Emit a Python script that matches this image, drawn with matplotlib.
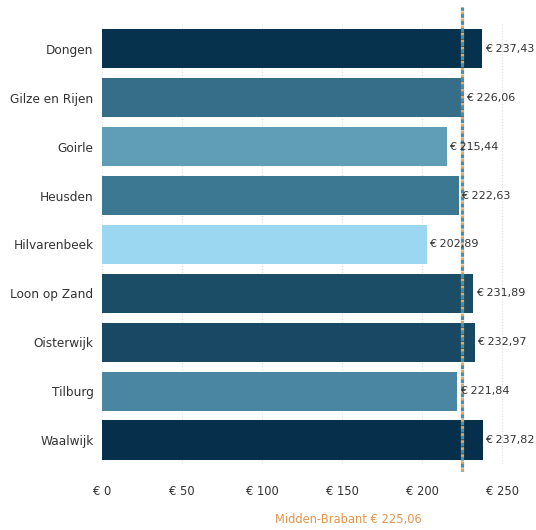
import matplotlib.pyplot as plt

gemeenten = ["Dongen", "Gilze en Rijen", "Goirle", "Heusden", "Hilvarenbeek",
             "Loon op Zand", "Oisterwijk", "Tilburg", "Waalwijk"]
bedragen = [237.43, 226.06, 215.44, 222.63, 202.89, 231.89, 232.97, 221.84, 237.82]
kleuren = ["#06324e", "#366d89", "#609db6", "#3d7893", "#9bd7f0",
           "#1b4d66", "#184863", "#4a86a1", "#062f4b"]
gemiddelde = 225.06
ticks = [0, 50, 100, 150, 200, 250]

def euro(v):
    return "€ " + f"{v:.2f}".replace(".", ",")

fig = plt.figure(figsize=(5.36, 5.30), dpi=100)
ax = fig.add_axes([0.19, 0.1236, 0.81, 0.8304])

y = range(len(gemeenten))
ax.barh(y, bedragen, height=0.8, color=kleuren, zorder=2)
ax.set_ylim(len(gemeenten) - 0.5, -0.5)
ax.set_xlim(0, 271)

for i, v in enumerate(bedragen):
    ax.text(v + 1.5, i, euro(v), va="center", ha="left", fontsize=8, color="#333333", zorder=4)

# gemiddelde lijn (oranje/blauw gestippeld)
ax.axvline(gemiddelde, ymin=-0.015, ymax=1.04, color="#e0aa62", lw=2.3,
           linestyle=(0, (1.0, 1.2)), clip_on=False, zorder=3)
ax.axvline(gemiddelde, ymin=-0.015, ymax=1.04, color="#4a8fa6", lw=2.3,
           linestyle=(1.0, (1.2, 1.0)), clip_on=False, zorder=3)

ax.set_yticks(list(y))
ax.set_yticklabels(gemeenten, fontsize=8.7, color="#333333")
ax.set_xticks(ticks)
ax.set_xticklabels([f"€ {t}" for t in ticks], fontsize=8.3, color="#333333")
ax.tick_params(axis="both", length=0)
ax.tick_params(axis="x", pad=15)
ax.tick_params(axis="y", pad=6)

ax.grid(axis="x", color="#dddddd", linestyle=":", lw=0.8, zorder=0)
for s in ax.spines.values():
    s.set_visible(False)

fig.text(348 / 536, 1 - 520 / 530, "Midden-Brabant " + euro(gemiddelde),
         ha="center", va="center", fontsize=8.3, color="#e0974a")

fig.savefig("out.png", dpi=100)
